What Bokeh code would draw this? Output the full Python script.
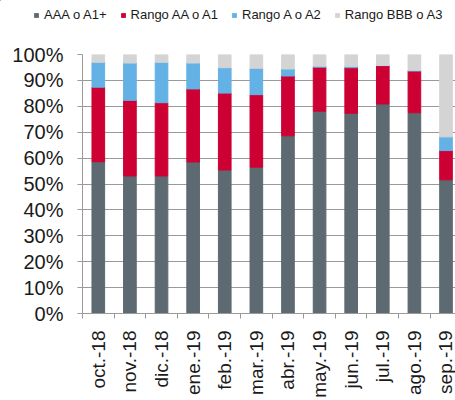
import math
from bokeh.plotting import figure
from bokeh.layouts import column
from bokeh.models import ColumnDataSource, Range1d, FixedTicker, Legend, LegendItem, PrintfTickFormatter
from bokeh.embed import file_html
from bokeh.resources import INLINE

months = ["oct.-18", "nov.-18", "dic.-18", "ene.-19", "feb.-19", "mar.-19",
          "abr.-19", "may.-19", "jun.-19", "jul.-19", "ago.-19", "sep.-19"]
aaa = [58.6, 53.1, 53.1, 58.5, 55.4, 56.5, 68.6, 78.1, 77.3, 80.9, 77.5, 51.6]
aa = [28.8, 29.2, 28.3, 28.2, 29.7, 28.0, 23.1, 17.0, 17.6, 14.8, 16.1, 11.3]
a = [9.6, 14.4, 15.6, 10.0, 9.8, 10.2, 2.7, 0.4, 0.5, 0.1, 0.3, 5.3]
bbb = [3.0, 3.3, 3.0, 3.3, 5.1, 5.3, 5.6, 4.5, 4.6, 4.2, 6.1, 31.8]
series_names = ["AAA o A1+", "Rango AA o A1", "Rango A o A2", "Rango BBB o A3"]
colors = ["#5d6a72", "#cc0033", "#63b1e5", "#d4d4d4"]
stackers = ["aaa", "aa", "a", "bbb"]
y_ticks = [0, 10, 20, 30, 40, 50, 60, 70, 80, 90, 100]

x = list(range(len(months)))
source = ColumnDataSource(dict(x=x, aaa=aaa, aa=aa, a=a, bbb=bbb))

# ---- legend strip (separate figure so the legend is not clipped by the chart frame)
leg = figure(width=455, height=30, output_backend="svg", toolbar_location=None,
             x_axis_type=None, y_axis_type=None,
             x_range=Range1d(100, 101), y_range=Range1d(-2, -1),
             min_border=0, min_border_left=0, min_border_right=0,
             min_border_top=0, min_border_bottom=0)
leg.frame_align = False
leg.outline_line_color = None
leg.xgrid.visible = False
leg.ygrid.visible = False
# same series, out of this strip's view and zero width: only their legend swatches show
leg_rs = leg.vbar_stack(stackers, x="x", width=0, fill_color=colors, line_alpha=0,
                        source=source)
legend = Legend(items=[LegendItem(label=n, renderers=[r]) for n, r in zip(series_names, leg_rs)],
                orientation="horizontal", location=(33, 8),
                glyph_width=6, glyph_height=6, label_standoff=5, spacing=13,
                padding=0, margin=0, border_line_color=None,
                label_text_font="Liberation Sans", label_text_font_size="13px",
                label_text_color="#1a1a1a", background_fill_alpha=0)
leg.add_layout(legend, "center")

# ---- main chart
p = figure(width=455, height=370, output_backend="svg", toolbar_location=None,
           x_range=Range1d(-0.5, 11.3), y_range=Range1d(0, 100),
           min_border_left=82, min_border_right=0, min_border_top=24, min_border_bottom=0)
p.frame_align = False
p.outline_line_color = None
p.background_fill_color = "white"

p.vbar_stack(stackers, x="x", width=0.4, color=colors, source=source)

font = "Liberation Sans"
for ax in (p.xaxis[0], p.yaxis[0]):
    ax.axis_line_color = "#9a9a9a"
    ax.axis_line_width = 1
    ax.major_tick_line_color = "#9a9a9a"
    ax.minor_tick_line_color = "#9a9a9a"
    ax.major_label_text_font = font
    ax.major_label_text_color = "#1a1a1a"

p.xaxis.ticker = FixedTicker(ticks=x, minor_ticks=[i - 0.5 for i in range(len(months) + 1)])
p.xaxis.major_label_overrides = {i: m for i, m in enumerate(months)}
p.xaxis.major_label_orientation = math.pi / 2
p.xaxis.major_label_text_font_size = "19px"
p.xaxis.major_tick_out = 0
p.xaxis.major_tick_in = 0
p.xaxis.minor_tick_out = 5
p.xaxis.minor_tick_in = 0
p.xaxis.major_label_standoff = 12

p.yaxis.ticker = FixedTicker(ticks=y_ticks)
p.yaxis.formatter = PrintfTickFormatter(format="%d%%")
p.yaxis.major_label_text_font_size = "20px"
p.yaxis.major_tick_out = 5
p.yaxis.major_tick_in = 0
p.yaxis.major_label_standoff = 14

p.xgrid.visible = False
p.ygrid.ticker = FixedTicker(ticks=y_ticks)
p.ygrid.grid_line_color = "#9a9a9a"
p.ygrid.grid_line_width = 1

layout = column(leg, p, spacing=0)
open("out.html", "w").write(file_html(layout, INLINE))
